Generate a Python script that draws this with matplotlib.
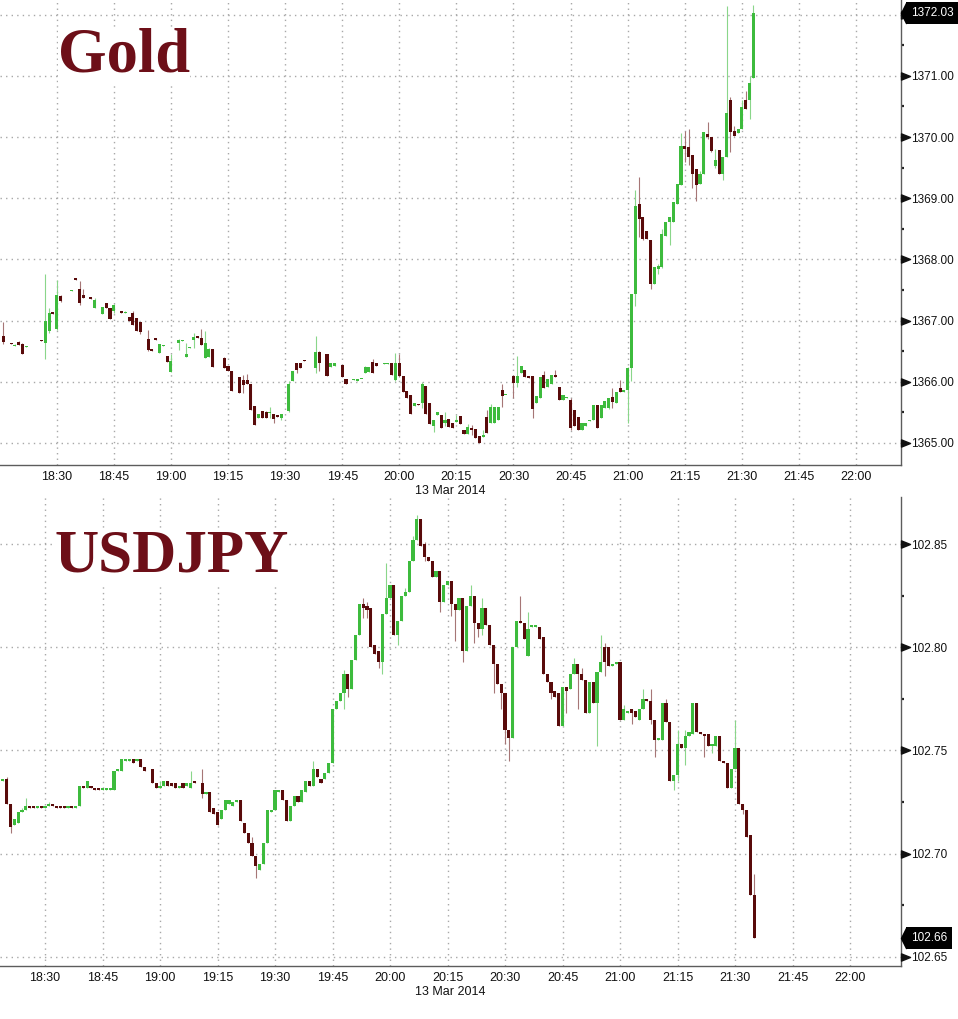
import numpy as np
import matplotlib
matplotlib.use('Agg')
import matplotlib.pyplot as plt
from matplotlib.path import Path
from matplotlib.ticker import FuncFormatter, MultipleLocator
import matplotlib.transforms as mtransforms

# one-minute candles, 13 Mar 2014; x = minutes after 18:30
gold_minute = [
    -14, -12, -11, -10, -9, -8, -4, -3, -2, -1,
    0, 1, 4, 5, 6, 7, 9, 10, 12, 13,
    14, 15, 17, 18, 19, 20, 21, 22, 24, 25,
    26, 27, 28, 29, 30, 32, 33, 34, 35, 36,
    37, 38, 39, 40, 41, 44, 45, 46, 48, 49,
    50, 51, 52, 53, 54, 55, 56, 57, 58, 59,
    61, 62, 63, 64, 65, 66, 68, 69, 71, 72,
    73, 75, 76, 78, 79, 80, 81, 82, 83, 84,
    86, 87, 88, 89, 90, 91, 92, 93, 94, 95,
    96, 97, 98, 99, 100, 101, 102, 103, 104, 105,
    106, 107, 108, 109, 110, 111, 112, 113, 114, 115,
    116, 117, 118, 120, 121, 122, 123, 124, 125, 126,
    127, 128, 129, 130, 131, 132, 133, 134, 135, 136,
    137, 138, 139, 140, 141, 142, 143, 144, 145, 146,
    147, 148, 149, 150, 151, 152, 153, 154, 155, 156,
    157, 158, 159, 160, 161, 162, 163, 164, 165, 166,
    167, 168, 169, 170, 171, 172, 173, 174, 175, 176,
    177, 178, 179, 180, 181, 182, 183,
]
gold_open = [
    1366.74, 1366.63, 1366.59, 1366.65, 1366.62, 1366.57, 1366.69, 1366.63, 1366.83, 1367.14,
    1366.86, 1367.40, 1367.48, 1367.70, 1367.52, 1367.42, 1367.38, 1367.21, 1367.10, 1367.28,
    1367.20, 1367.16, 1367.15, 1367.13, 1367.06, 1367.13, 1367.05, 1366.97, 1366.70, 1366.53,
    1366.71, 1366.47, 1366.59, 1366.42, 1366.16, 1366.64, 1366.67, 1366.41, 1366.55, 1366.68,
    1366.75, 1366.72, 1366.39, 1366.41, 1366.53, 1366.39, 1366.26, 1366.17, 1366.07, 1366.03,
    1366.03, 1365.96, 1365.61, 1365.40, 1365.53, 1365.51, 1365.49, 1365.48, 1365.45, 1365.40,
    1365.53, 1366.02, 1366.30, 1366.30, 1366.35, 1366.26, 1366.22, 1366.48, 1366.45, 1366.24,
    1366.26, 1366.27, 1366.05, 1366.03, 1366.02, 1366.04, 1366.15, 1366.16, 1366.33, 1366.30,
    1366.29, 1366.29, 1366.30, 1366.03, 1366.30, 1366.10, 1365.85, 1365.78, 1365.60, 1365.64,
    1365.65, 1365.93, 1365.65, 1365.27, 1365.46, 1365.46, 1365.32, 1365.39, 1365.33, 1365.35,
    1365.44, 1365.21, 1365.14, 1365.24, 1365.22, 1365.11, 1365.10, 1365.43, 1365.32, 1365.32,
    1365.37, 1365.86, 1365.78, 1366.09, 1365.98, 1366.14, 1366.19, 1366.09, 1366.09, 1365.65,
    1365.73, 1366.11, 1365.92, 1365.97, 1366.11, 1365.92, 1365.70, 1365.74, 1365.70, 1365.54,
    1365.43, 1365.21, 1365.28, 1365.36, 1365.37, 1365.62, 1365.40, 1365.57, 1365.57, 1365.75,
    1365.65, 1365.89, 1365.83, 1365.86, 1366.22, 1367.44, 1368.91, 1368.69, 1368.47, 1368.31,
    1367.60, 1367.84, 1367.88, 1368.39, 1368.61, 1368.61, 1368.91, 1369.21, 1369.86, 1369.83,
    1369.70, 1369.47, 1369.23, 1369.40, 1370.05, 1370.00, 1369.52, 1369.79, 1369.40, 1369.67,
    1370.60, 1370.10, 1370.07, 1370.13, 1370.60, 1370.60, 1370.96,
]
gold_high = [
    1366.98, 1366.63, 1366.61, 1366.66, 1366.63, 1366.59, 1366.69, 1367.76, 1367.20, 1367.14,
    1367.67, 1367.42, 1367.50, 1367.70, 1367.65, 1367.51, 1367.38, 1367.37, 1367.23, 1367.28,
    1367.20, 1367.27, 1367.15, 1367.15, 1367.06, 1367.15, 1367.05, 1366.97, 1366.84, 1366.53,
    1366.71, 1366.62, 1366.60, 1366.42, 1366.45, 1366.70, 1366.69, 1366.64, 1366.57, 1366.80,
    1366.75, 1366.86, 1366.83, 1366.56, 1366.53, 1366.41, 1366.26, 1366.17, 1366.07, 1366.11,
    1366.12, 1365.96, 1365.61, 1365.48, 1365.53, 1365.52, 1365.58, 1365.48, 1365.45, 1365.48,
    1366.02, 1366.17, 1366.31, 1366.30, 1366.36, 1366.26, 1366.74, 1366.50, 1366.45, 1366.30,
    1366.30, 1366.27, 1366.05, 1366.05, 1366.05, 1366.05, 1366.26, 1366.24, 1366.38, 1366.30,
    1366.30, 1366.30, 1366.30, 1366.47, 1366.46, 1366.10, 1365.85, 1365.78, 1365.65, 1365.64,
    1366.00, 1365.93, 1365.65, 1365.38, 1365.51, 1365.46, 1365.51, 1365.39, 1365.33, 1365.46,
    1365.44, 1365.21, 1365.31, 1365.29, 1365.22, 1365.11, 1365.21, 1365.54, 1365.63, 1365.58,
    1365.58, 1365.97, 1365.79, 1366.11, 1366.42, 1366.26, 1366.19, 1366.09, 1366.09, 1365.76,
    1366.08, 1366.17, 1366.04, 1366.11, 1366.20, 1365.92, 1365.78, 1365.75, 1365.73, 1365.54,
    1365.43, 1365.32, 1365.32, 1365.37, 1365.62, 1365.62, 1365.62, 1365.68, 1365.73, 1365.89,
    1365.84, 1366.03, 1365.86, 1366.24, 1367.44, 1369.13, 1369.34, 1368.69, 1368.47, 1368.31,
    1367.88, 1367.92, 1368.50, 1368.61, 1368.69, 1368.94, 1369.24, 1370.07, 1370.10, 1370.13,
    1369.70, 1369.47, 1369.45, 1370.08, 1370.24, 1370.00, 1369.81, 1369.79, 1369.67, 1372.14,
    1370.66, 1370.18, 1370.13, 1370.60, 1370.76, 1371.00, 1372.16,
]
gold_low = [
    1366.62, 1366.61, 1366.59, 1366.60, 1366.45, 1366.57, 1366.66, 1366.38, 1366.80, 1367.10,
    1366.84, 1367.30, 1367.48, 1367.67, 1367.26, 1367.37, 1367.36, 1367.21, 1367.10, 1367.21,
    1367.03, 1367.12, 1367.13, 1367.13, 1366.99, 1366.92, 1366.83, 1366.78, 1366.51, 1366.50,
    1366.68, 1366.47, 1366.59, 1366.33, 1366.16, 1366.52, 1366.67, 1366.41, 1366.55, 1366.55,
    1366.72, 1366.60, 1366.39, 1366.41, 1366.24, 1366.22, 1366.17, 1365.85, 1365.82, 1365.81,
    1365.96, 1365.54, 1365.30, 1365.40, 1365.41, 1365.40, 1365.40, 1365.32, 1365.42, 1365.38,
    1365.51, 1366.02, 1366.14, 1366.22, 1366.34, 1366.25, 1366.14, 1366.18, 1366.10, 1366.24,
    1366.26, 1366.08, 1365.97, 1366.03, 1366.02, 1366.04, 1366.15, 1366.16, 1366.14, 1366.26,
    1366.29, 1366.29, 1366.11, 1366.01, 1366.08, 1365.84, 1365.74, 1365.47, 1365.60, 1365.62,
    1365.57, 1365.47, 1365.31, 1365.18, 1365.46, 1365.24, 1365.27, 1365.26, 1365.24, 1365.35,
    1365.31, 1365.14, 1365.14, 1365.13, 1365.08, 1365.00, 1365.10, 1365.16, 1365.32, 1365.32,
    1365.37, 1365.59, 1365.78, 1365.74, 1365.92, 1366.14, 1366.08, 1366.06, 1365.40, 1365.65,
    1365.73, 1365.89, 1365.92, 1365.97, 1366.08, 1365.70, 1365.70, 1365.74, 1365.21, 1365.27,
    1365.21, 1365.21, 1365.28, 1365.36, 1365.37, 1365.24, 1365.40, 1365.57, 1365.55, 1365.57,
    1365.65, 1365.83, 1365.83, 1365.32, 1366.02, 1367.24, 1368.36, 1368.31, 1368.34, 1367.52,
    1367.60, 1367.76, 1367.86, 1368.39, 1368.23, 1368.61, 1368.91, 1369.21, 1369.59, 1369.54,
    1369.16, 1368.96, 1369.23, 1369.40, 1369.97, 1369.75, 1369.50, 1369.40, 1369.29, 1369.67,
    1369.75, 1370.02, 1370.07, 1370.13, 1370.46, 1370.30, 1370.96,
]
gold_close = [
    1366.65, 1366.61, 1366.60, 1366.60, 1366.45, 1366.58, 1366.66, 1367.00, 1367.13, 1367.10,
    1367.42, 1367.32, 1367.49, 1367.67, 1367.28, 1367.37, 1367.36, 1367.33, 1367.23, 1367.21,
    1367.03, 1367.25, 1367.13, 1367.14, 1366.99, 1366.92, 1366.83, 1366.82, 1366.52, 1366.50,
    1366.68, 1366.62, 1366.60, 1366.33, 1366.34, 1366.68, 1366.68, 1366.45, 1366.56, 1366.73,
    1366.72, 1366.60, 1366.64, 1366.54, 1366.24, 1366.22, 1366.17, 1365.85, 1365.82, 1365.95,
    1365.96, 1365.54, 1365.30, 1365.47, 1365.41, 1365.40, 1365.50, 1365.39, 1365.42, 1365.48,
    1365.96, 1366.17, 1366.19, 1366.22, 1366.34, 1366.25, 1366.49, 1366.30, 1366.10, 1366.30,
    1366.30, 1366.08, 1365.97, 1366.05, 1366.05, 1366.05, 1366.24, 1366.24, 1366.14, 1366.26,
    1366.30, 1366.30, 1366.11, 1366.30, 1366.10, 1365.84, 1365.74, 1365.47, 1365.65, 1365.62,
    1365.96, 1365.47, 1365.31, 1365.38, 1365.51, 1365.24, 1365.37, 1365.26, 1365.24, 1365.38,
    1365.31, 1365.14, 1365.26, 1365.21, 1365.08, 1365.00, 1365.13, 1365.16, 1365.58, 1365.58,
    1365.58, 1365.77, 1365.79, 1365.98, 1366.09, 1366.26, 1366.08, 1366.06, 1365.55, 1365.76,
    1366.08, 1365.89, 1366.04, 1366.11, 1366.08, 1365.70, 1365.78, 1365.75, 1365.24, 1365.27,
    1365.21, 1365.32, 1365.32, 1365.37, 1365.62, 1365.24, 1365.62, 1365.68, 1365.73, 1365.67,
    1365.84, 1365.83, 1365.86, 1366.22, 1367.44, 1368.88, 1368.66, 1368.34, 1368.34, 1367.60,
    1367.88, 1367.90, 1368.42, 1368.61, 1368.69, 1368.94, 1369.24, 1369.86, 1369.80, 1369.67,
    1369.40, 1369.21, 1369.40, 1370.08, 1370.00, 1369.78, 1369.62, 1369.40, 1369.67, 1370.40,
    1370.08, 1370.02, 1370.13, 1370.49, 1370.46, 1370.89, 1372.03,
]

jpy_minute = [
    -11, -10, -9, -8, -7, -6, -5, -4, -3, -2,
    -1, 0, 1, 2, 3, 4, 5, 6, 7, 8,
    9, 10, 11, 12, 13, 14, 15, 16, 17, 18,
    19, 20, 21, 22, 23, 24, 25, 26, 28, 29,
    30, 31, 32, 33, 34, 35, 36, 37, 38, 39,
    41, 42, 43, 44, 45, 46, 47, 48, 49, 50,
    51, 52, 53, 54, 55, 56, 57, 58, 59, 60,
    61, 62, 63, 64, 65, 66, 67, 68, 69, 70,
    71, 72, 73, 74, 75, 76, 77, 78, 79, 80,
    81, 82, 83, 84, 85, 86, 87, 88, 89, 90,
    91, 92, 93, 94, 95, 96, 97, 98, 99, 100,
    101, 102, 103, 104, 105, 106, 107, 108, 109, 110,
    111, 112, 113, 114, 115, 116, 117, 118, 119, 120,
    121, 122, 123, 124, 125, 126, 127, 128, 129, 130,
    131, 132, 133, 134, 135, 136, 137, 138, 139, 140,
    141, 142, 143, 144, 145, 146, 147, 148, 149, 150,
    151, 152, 153, 154, 155, 156, 157, 158, 159, 160,
    161, 162, 163, 164, 165, 166, 167, 168, 169, 170,
    171, 172, 173, 174, 175, 176, 177, 178, 179, 180,
    181, 182, 183, 184, 185,
]
jpy_open = [
    102.735, 102.736, 102.724, 102.714, 102.715, 102.720, 102.721, 102.723, 102.723, 102.722,
    102.723, 102.722, 102.723, 102.724, 102.723, 102.723, 102.723, 102.722, 102.723, 102.722,
    102.723, 102.733, 102.732, 102.733, 102.732, 102.732, 102.731, 102.731, 102.731, 102.731,
    102.740, 102.740, 102.745, 102.745, 102.746, 102.745, 102.746, 102.742, 102.741, 102.734,
    102.732, 102.733, 102.735, 102.734, 102.734, 102.732, 102.734, 102.733, 102.732, 102.735,
    102.734, 102.729, 102.730, 102.722, 102.720, 102.717, 102.721, 102.724, 102.723, 102.725,
    102.726, 102.715, 102.710, 102.705, 102.699, 102.692, 102.695, 102.705, 102.720, 102.721,
    102.730, 102.731, 102.726, 102.716, 102.723, 102.728, 102.725, 102.730, 102.735, 102.733,
    102.741, 102.736, 102.736, 102.739, 102.744, 102.770, 102.774, 102.778, 102.787, 102.780,
    102.794, 102.806, 102.821, 102.820, 102.819, 102.801, 102.798, 102.793, 102.816, 102.824,
    102.830, 102.806, 102.813, 102.825, 102.827, 102.842, 102.852, 102.862, 102.850, 102.844,
    102.842, 102.834, 102.837, 102.822, 102.830, 102.832, 102.821, 102.818, 102.824, 102.798,
    102.820, 102.825, 102.812, 102.809, 102.819, 102.811, 102.801, 102.792, 102.782, 102.778,
    102.760, 102.756, 102.800, 102.813, 102.812, 102.796, 102.810, 102.810, 102.810, 102.805,
    102.787, 102.783, 102.779, 102.778, 102.762, 102.781, 102.780, 102.787, 102.792, 102.787,
    102.784, 102.768, 102.783, 102.773, 102.788, 102.800, 102.800, 102.791, 102.792, 102.793,
    102.765, 102.768, 102.770, 102.769, 102.765, 102.770, 102.775, 102.774, 102.765, 102.755,
    102.755, 102.773, 102.764, 102.735, 102.738, 102.753, 102.751, 102.757, 102.758, 102.773,
    102.759, 102.758, 102.758, 102.752, 102.752, 102.757, 102.745, 102.744, 102.732, 102.741,
    102.751, 102.724, 102.721, 102.709, 102.680,
]
jpy_high = [
    102.736, 102.737, 102.724, 102.717, 102.720, 102.722, 102.727, 102.723, 102.723, 102.723,
    102.723, 102.723, 102.725, 102.724, 102.723, 102.723, 102.723, 102.723, 102.723, 102.723,
    102.733, 102.733, 102.735, 102.733, 102.732, 102.732, 102.732, 102.732, 102.732, 102.740,
    102.741, 102.746, 102.746, 102.746, 102.746, 102.746, 102.746, 102.742, 102.741, 102.734,
    102.735, 102.735, 102.735, 102.734, 102.734, 102.733, 102.734, 102.734, 102.740, 102.735,
    102.741, 102.730, 102.730, 102.722, 102.720, 102.721, 102.726, 102.726, 102.725, 102.726,
    102.726, 102.715, 102.710, 102.708, 102.699, 102.695, 102.705, 102.721, 102.721, 102.731,
    102.731, 102.731, 102.726, 102.723, 102.728, 102.728, 102.731, 102.735, 102.735, 102.745,
    102.741, 102.736, 102.739, 102.744, 102.770, 102.774, 102.778, 102.789, 102.787, 102.794,
    102.806, 102.821, 102.824, 102.822, 102.819, 102.801, 102.798, 102.816, 102.841, 102.830,
    102.830, 102.813, 102.825, 102.829, 102.842, 102.854, 102.864, 102.862, 102.851, 102.844,
    102.842, 102.837, 102.837, 102.830, 102.832, 102.832, 102.821, 102.824, 102.824, 102.820,
    102.830, 102.825, 102.812, 102.824, 102.819, 102.811, 102.801, 102.792, 102.782, 102.778,
    102.760, 102.800, 102.813, 102.825, 102.812, 102.817, 102.811, 102.811, 102.810, 102.805,
    102.787, 102.783, 102.779, 102.778, 102.781, 102.781, 102.787, 102.795, 102.792, 102.790,
    102.784, 102.783, 102.783, 102.788, 102.806, 102.802, 102.800, 102.792, 102.793, 102.793,
    102.772, 102.769, 102.770, 102.769, 102.770, 102.780, 102.775, 102.780, 102.765, 102.756,
    102.773, 102.775, 102.764, 102.738, 102.760, 102.753, 102.760, 102.759, 102.773, 102.773,
    102.759, 102.758, 102.758, 102.753, 102.757, 102.757, 102.745, 102.744, 102.741, 102.765,
    102.751, 102.724, 102.721, 102.709, 102.690,
]
jpy_low = [
    102.735, 102.724, 102.710, 102.714, 102.715, 102.720, 102.721, 102.722, 102.722, 102.722,
    102.722, 102.722, 102.723, 102.723, 102.722, 102.722, 102.722, 102.722, 102.722, 102.722,
    102.723, 102.732, 102.732, 102.732, 102.731, 102.731, 102.731, 102.731, 102.731, 102.731,
    102.740, 102.740, 102.745, 102.745, 102.744, 102.745, 102.742, 102.740, 102.734, 102.732,
    102.732, 102.733, 102.733, 102.733, 102.732, 102.732, 102.732, 102.733, 102.732, 102.734,
    102.727, 102.729, 102.720, 102.719, 102.714, 102.717, 102.721, 102.724, 102.723, 102.725,
    102.716, 102.710, 102.705, 102.699, 102.688, 102.692, 102.695, 102.705, 102.720, 102.721,
    102.730, 102.726, 102.716, 102.716, 102.723, 102.725, 102.725, 102.730, 102.733, 102.733,
    102.737, 102.734, 102.736, 102.739, 102.744, 102.770, 102.774, 102.770, 102.776, 102.780,
    102.794, 102.806, 102.814, 102.814, 102.800, 102.797, 102.790, 102.787, 102.816, 102.824,
    102.806, 102.801, 102.813, 102.825, 102.827, 102.842, 102.852, 102.849, 102.842, 102.842,
    102.834, 102.834, 102.817, 102.822, 102.830, 102.815, 102.803, 102.818, 102.793, 102.798,
    102.820, 102.802, 102.805, 102.806, 102.811, 102.801, 102.778, 102.782, 102.770, 102.753,
    102.745, 102.756, 102.800, 102.812, 102.804, 102.796, 102.810, 102.810, 102.804, 102.787,
    102.783, 102.775, 102.776, 102.762, 102.762, 102.768, 102.780, 102.787, 102.770, 102.784,
    102.768, 102.768, 102.773, 102.752, 102.788, 102.786, 102.791, 102.791, 102.792, 102.765,
    102.765, 102.768, 102.763, 102.766, 102.765, 102.770, 102.774, 102.763, 102.747, 102.755,
    102.755, 102.764, 102.735, 102.731, 102.735, 102.751, 102.743, 102.757, 102.758, 102.759,
    102.758, 102.747, 102.752, 102.749, 102.752, 102.745, 102.744, 102.732, 102.732, 102.741,
    102.724, 102.719, 102.708, 102.680, 102.659,
]
jpy_close = [
    102.736, 102.724, 102.713, 102.717, 102.720, 102.721, 102.723, 102.722, 102.722, 102.723,
    102.722, 102.723, 102.724, 102.723, 102.722, 102.722, 102.722, 102.723, 102.722, 102.723,
    102.733, 102.732, 102.735, 102.732, 102.731, 102.731, 102.732, 102.732, 102.732, 102.740,
    102.741, 102.746, 102.746, 102.746, 102.744, 102.746, 102.742, 102.740, 102.734, 102.732,
    102.733, 102.735, 102.733, 102.733, 102.732, 102.733, 102.732, 102.734, 102.734, 102.734,
    102.729, 102.730, 102.720, 102.719, 102.714, 102.721, 102.726, 102.726, 102.725, 102.726,
    102.716, 102.710, 102.705, 102.699, 102.694, 102.695, 102.705, 102.721, 102.721, 102.731,
    102.731, 102.726, 102.716, 102.723, 102.728, 102.725, 102.731, 102.735, 102.733, 102.741,
    102.737, 102.734, 102.739, 102.744, 102.770, 102.774, 102.778, 102.787, 102.780, 102.794,
    102.806, 102.821, 102.819, 102.818, 102.800, 102.797, 102.793, 102.816, 102.824, 102.830,
    102.806, 102.813, 102.825, 102.827, 102.842, 102.852, 102.862, 102.849, 102.844, 102.842,
    102.834, 102.837, 102.822, 102.830, 102.832, 102.821, 102.818, 102.824, 102.798, 102.820,
    102.825, 102.812, 102.809, 102.819, 102.811, 102.801, 102.792, 102.782, 102.778, 102.760,
    102.756, 102.800, 102.813, 102.812, 102.804, 102.809, 102.811, 102.811, 102.804, 102.787,
    102.783, 102.778, 102.776, 102.762, 102.781, 102.779, 102.787, 102.792, 102.787, 102.784,
    102.768, 102.783, 102.773, 102.788, 102.793, 102.793, 102.791, 102.792, 102.793, 102.765,
    102.770, 102.769, 102.768, 102.766, 102.770, 102.775, 102.774, 102.765, 102.755, 102.756,
    102.773, 102.764, 102.735, 102.738, 102.753, 102.751, 102.757, 102.759, 102.773, 102.759,
    102.758, 102.757, 102.752, 102.753, 102.757, 102.745, 102.744, 102.732, 102.741, 102.751,
    102.724, 102.721, 102.708, 102.680, 102.659,
]

time_ticks = list(range(0, 211, 15))   # 18:30 ... 22:00

UP_BODY = '#3dbb3d'
UP_WICK = '#8ad68a'
DOWN_BODY = '#590b0b'
DOWN_WICK = '#a67676'
TITLE_RED = '#6d0f18'
GRID_COL = '#a8a8a8'
SPINE_COL = '#5c5c5c'

plt.rcParams['font.family'] = ['Liberation Sans', 'DejaVu Sans']

# little arrow on the right axis for each major tick, and the notch of the last-price box
TICK_ARROW = Path([(0, -0.4), (1, 0), (0, 0.4), (0, -0.4)],
                  [Path.MOVETO, Path.LINETO, Path.LINETO, Path.CLOSEPOLY])
BOX_NOTCH = Path([(0, -0.5), (-0.25, 0), (0, 0.5), (0, -0.5)],
                 [Path.MOVETO, Path.LINETO, Path.LINETO, Path.CLOSEPOLY])


def clock(v, pos=None):
    t = 18 * 60 + 30 + int(round(v))
    return f'{t // 60}:{t % 60:02d}'


def draw_candles(ax, minute, o, h, l, c, min_body):
    minute = np.asarray(minute, dtype=float)
    o, h, l, c = (np.asarray(a, dtype=float) for a in (o, h, l, c))
    up = c >= o
    bottom = np.minimum(o, c)
    height = np.maximum(np.abs(c - o), min_body)
    for mask, body_col, wick_col in ((up, UP_BODY, UP_WICK), (~up, DOWN_BODY, DOWN_WICK)):
        ax.vlines(minute[mask], l[mask], h[mask], color=wick_col, linewidth=0.8, zorder=2)
        ax.bar(minute[mask], height[mask], bottom=bottom[mask], width=0.8,
               color=body_col, linewidth=0, zorder=3)


def style_panel(ax, title, title_pos, title_size, xlim, ylim, step, last, decimals):
    ax.set_xlim(*xlim)
    ax.set_ylim(*ylim)
    for side in ('top', 'left'):
        ax.spines[side].set_visible(False)
    for side in ('right', 'bottom'):
        ax.spines[side].set_color(SPINE_COL)
        ax.spines[side].set_linewidth(1.0)

    ax.set_xticks(time_ticks)
    ax.xaxis.set_major_formatter(FuncFormatter(clock))
    ax.tick_params(axis='x', length=0, pad=4, labelsize=9, colors='#111111')
    ax.set_xlabel('13 Mar 2014', fontsize=9, labelpad=2, color='#111111')

    ax.yaxis.set_major_locator(MultipleLocator(step))
    ax.yaxis.set_minor_locator(MultipleLocator(step / 2))
    ax.yaxis.tick_right()
    ax.yaxis.set_major_formatter(FuncFormatter(
        lambda v, p: '' if abs(v - last) < step / 10 else f'{v:.{decimals}f}'))
    ax.tick_params(axis='y', which='major', length=0, pad=7.5, labelsize=8.5, colors='#111111')
    ax.tick_params(axis='y', which='minor', length=2.5, width=1.6, direction='out',
                   color='#222222')

    ax.grid(True, which='major', color=GRID_COL, linestyle=(0, (1, 3)), linewidth=1.0)
    ax.set_axisbelow(True)

    # arrows at major ticks
    ticks = [t for t in ax.get_yticks() if ylim[0] <= t <= ylim[1]]
    trans = mtransforms.blended_transform_factory(ax.transAxes, ax.transData)
    ax.plot([1.0] * len(ticks), ticks, linestyle='none', marker=TICK_ARROW,
            markersize=13, color='#111111', transform=trans, clip_on=False, zorder=5)

    # last price box
    ax.plot([1.0 + 5 / 901], [last], linestyle='none', marker=BOX_NOTCH, markersize=14.5,
            color='black', transform=trans, clip_on=False, zorder=6)
    ax.text(1.0 + 10 / 901, last, f'{last:.{decimals}f}', transform=trans,
            ha='left', va='center', fontsize=8.5, color='white', zorder=7,
            bbox=dict(boxstyle='square,pad=0.42', facecolor='black', edgecolor='none'))

    ax.text(title_pos[0], title_pos[1], title, transform=ax.transAxes,
            family=['Liberation Serif', 'DejaVu Serif'], fontweight='bold',
            fontsize=title_size, color=TITLE_RED, va='baseline', ha='left', zorder=4,
            bbox=dict(facecolor='white', edgecolor='none', pad=0))


fig = plt.figure(figsize=(9.58, 10.19), dpi=100)
ax_gold = fig.add_axes([0.0, 0.5437, 0.9405, 0.4563])
ax_jpy = fig.add_axes([0.0, 0.0520, 0.9405, 0.4603])

draw_candles(ax_gold, gold_minute, gold_open, gold_high, gold_low, gold_close, 0.014)
style_panel(ax_gold, 'Gold', (0.064, 0.847), 45, (-14.9, 221.8), (1364.64, 1372.24),
            1.0, gold_close[-1], 2)

draw_candles(ax_jpy, jpy_minute, jpy_open, jpy_high, jpy_low, jpy_close, 0.0005)
style_panel(ax_jpy, 'USDJPY', (0.061, 0.841), 44, (-11.74, 223.3), (102.6455, 102.8729),
            0.05, jpy_close[-1], 2)

fig.savefig('out.png', dpi=100)
plt.close(fig)
